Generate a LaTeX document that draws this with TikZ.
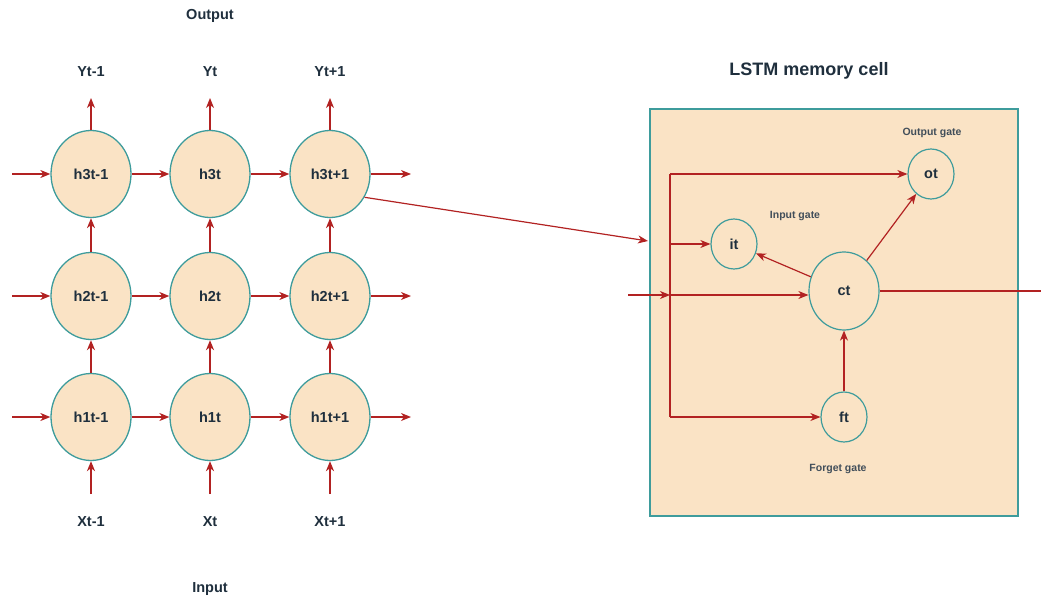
\documentclass[tikz,border=0pt]{standalone}
\usepackage{fontspec}
\setmainfont{Liberation Sans}
\usetikzlibrary{shapes.geometric,arrows.meta}
\definecolor{cellfill}{HTML}{FAE3C5}
\definecolor{teal1}{HTML}{3E9C9C}
\definecolor{arrred}{HTML}{B22222}
\definecolor{txt}{HTML}{1F2F3D}
\tikzset{
  cell/.style={ellipse, draw=teal1, line width=1.3pt, fill=cellfill, inner sep=0pt,
    minimum width=80pt, minimum height=87pt, font=\fontsize{14.5}{16}\selectfont\bfseries, text=txt},
  gate/.style={ellipse, draw=teal1, line width=1.2pt, fill=cellfill, inner sep=0pt,
    minimum width=46pt, minimum height=50pt, font=\fontsize{14.5}{16}\selectfont\bfseries, text=txt},
  lbl/.style={font=\fontsize{14.5}{16}\selectfont\bfseries, text=txt},
  small/.style={font=\fontsize{10.5}{12}\selectfont\bfseries, text=txt!85},
  arr/.style={draw=arrred, line width=1.2pt, -{Stealth[length=10pt,width=8pt,inset=3pt]}},
  ln/.style={draw=arrred, line width=1.2pt},
  boxst/.style={draw=teal1, line width=1.2pt, fill=cellfill, minimum width=368pt, minimum height=407pt, inner sep=0pt}
}
\begin{document}
\begin{tikzpicture}[x=1pt,y=-1pt]
\useasboundingbox (0,0) rectangle (1041,599);
% grid cells
\node[cell] (h3a) at (91,174) {h3t-1};
\node[cell] (h3b) at (210,174) {h3t};
\node[cell] (h3c) at (330,174) {h3t+1};
\node[cell] (h2a) at (91,296) {h2t-1};
\node[cell] (h2b) at (210,296) {h2t};
\node[cell] (h2c) at (330,296) {h2t+1};
\node[cell] (h1a) at (91,417) {h1t-1};
\node[cell] (h1b) at (210,417) {h1t};
\node[cell] (h1c) at (330,417) {h1t+1};
% labels
\node[lbl] (outlbl) at (210,16) {Output};
\node[lbl] (inlbl) at (210,589) {Input};
\node[lbl] (ya) at (91,72) {Yt-1};
\node[lbl] (yb) at (210,72) {Yt};
\node[lbl] (yc) at (330,72) {Yt+1};
\node[lbl] (xa) at (91,522) {Xt-1};
\node[lbl] (xb) at (210,522) {Xt};
\node[lbl] (xc) at (330,522) {Xt+1};
% free ends
\foreach \r/\y in {3/174,2/296,1/417}{
  \coordinate (l\r) at (12,\y);
  \coordinate (r\r) at (411,\y);
}
\foreach \c/\x in {a/91,b/210,c/330}{
  \coordinate (u\c) at (\x,98);
  \coordinate (d\c) at (\x,494);
}
% horizontal arrows
\foreach \r in {3,2,1}{
  \draw[arr] (l\r) -- (h\r a);
  \draw[arr] (h\r a) -- (h\r b);
  \draw[arr] (h\r b) -- (h\r c);
  \draw[arr] (h\r c) -- (r\r);
}
% vertical arrows
\foreach \c in {a,b,c}{
  \draw[arr] (h3\c) -- (u\c);
  \draw[arr] (h2\c) -- (h3\c);
  \draw[arr] (h1\c) -- (h2\c);
  \draw[arr] (d\c) -- (h1\c);
}
% LSTM box
\node[lbl, font=\fontsize{18}{20}\selectfont\bfseries] (title) at (809,71) {LSTM memory cell};
\node[boxst] (box) at (834,312.5) {};
\node[gate] (ot) at (931,174) {ot};
\node[gate] (it) at (734,244) {it};
\node[gate, minimum width=70pt, minimum height=78pt] (ct) at (844,291) {ct};
\node[gate] (ft) at (844,417) {ft};
\node[small] (og) at (932,133) {Output gate};
\node[small] (ig) at (795,216) {Input gate};
\node[small] (fg) at (838,469) {Forget gate};
% connection from grid to cell
\coordinate (boxin) at (648,241);
\draw[arr] (h3c.-34) -- (boxin);
% internal wiring
\coordinate (j1) at (670,174);
\coordinate (j2) at (670,244);
\coordinate (j3) at (670,295);
\coordinate (j4) at (670,417);
\coordinate (inL) at (628,295);
\coordinate (outR) at (1041,291);
\draw[ln] (j1) -- (j4);
\draw[arr] (j1) -- (j1 -| ot.west);
\draw[arr] (j2) -- (j2 -| it.west);
\draw[arr] (inL) -- (j3);
\draw[arr] (j3) -- (j3 -| ct.west);
\draw[arr] (j4) -- (j4 -| ft.west);
\draw[arr] (ct) -- (it);
\draw[arr] (ct) -- (ot);
\draw[arr] (ft) -- (ct);
\draw[ln] (ct.east) -- (outR);
\end{tikzpicture}
\end{document}
